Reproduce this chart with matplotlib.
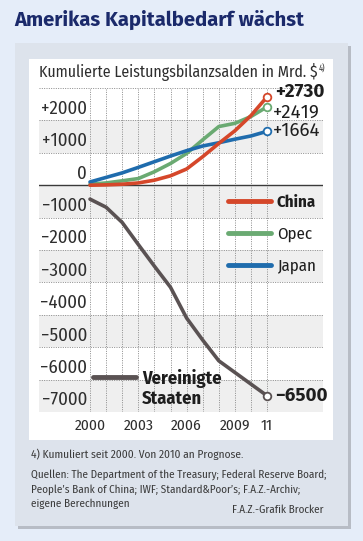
import matplotlib
matplotlib.use("Agg")
import matplotlib.pyplot as plt
from matplotlib import font_manager
from matplotlib.lines import Line2D
from matplotlib.patches import Rectangle

# values (cumulative, bn $)
years = [2000, 2001, 2002, 2003, 2004, 2005, 2006, 2007, 2008, 2009, 2010, 2011]
china = [0, 10, 30, 70, 155, 290, 500, 880, 1290, 1680, 2150, 2730]
opec = [30, 70, 135, 205, 415, 670, 980, 1400, 1810, 1910, 2120, 2419]
japan = [100, 240, 380, 550, 725, 900, 1065, 1210, 1310, 1420, 1520, 1664]
usa = [-430, -680, -1150, -1830, -2500, -3150, -4100, -4780, -5420, -5780, -6140, -6500]

ytick_values = [2000, 1000, 0, -1000, -2000, -3000, -4000, -5000, -6000, -7000]
xtick_values = [2000, 2003, 2006, 2009, 2011]
xtick_labels = ["2000", "2003", "2006", "2009", "11"]

W, H = 363, 541
BG = "#e5edf9"
PANEL = "#dde3ec"
NAVY = "#1b2a6b"
TXT = "#2e2e2e"
DARK = "#1e1e1e"
C_CHINA = "#d5472a"
C_OPEC = "#6aaa72"
C_JAPAN = "#1f6cad"
C_USA = "#5a5253"

names = {f.name for f in font_manager.fontManager.ttflist}


def pick(*cands):
    for c in cands:
        if c in names:
            return c
    return "Liberation Sans"


NARROW = pick("Fira Sans Condensed", "PT Sans Narrow", "Roboto Condensed",
              "Open Sans Condensed", "Archivo Narrow", "Liberation Sans Narrow")
WIDE = pick("Fira Sans", "Open Sans", "Lato")


def box(x0, y0, x1, y1):
    # pixel box (top-left origin) -> figure fraction rect
    return (x0 / W, 1 - y1 / H, (x1 - x0) / W, (y1 - y0) / H)


fig = plt.figure(figsize=(W / 100, H / 100), dpi=100)
fig.patch.set_facecolor(BG)
renderer = fig.canvas.get_renderer()


def fit(s, width, **kw):
    # font size that gives the text the width it has in the reference
    t = fig.text(0, 0, s, fontsize=10, **kw)
    w = t.get_window_extent(renderer).width
    t.remove()
    return 10 * width / w


for (x0, y0, x1, y1), col in [((18, 46, 351, 529), "#b7bcc5"),
                              ((15, 43, 348, 526), PANEL),
                              ((29, 59, 333, 440), "white")]:
    x, y, w, h = box(x0, y0, x1, y1)
    fig.add_artist(Rectangle((x, y), w, h, transform=fig.transFigure,
                             facecolor=col, edgecolor="none", zorder=-10))

title = "Amerikas Kapitalbedarf wächst"
fig.text(14 / W, 1 - 20 / H, title, family=WIDE, weight="bold",
         fontsize=fit(title, 291, family=WIDE, weight="bold"),
         color=NAVY, va="center", ha="left")

subtitle = "Kumulierte Leistungsbilanzsalden in Mrd. $"
sub = fig.text(39 / W, 1 - 72 / H, subtitle, family=NARROW,
               fontsize=fit(subtitle, 279, family=NARROW),
               color=TXT, va="center", ha="left")

ax = fig.add_axes(box(39, 88, 323, 412))
ax.set_xlim(2000 - 51 / 16.1, 2000 + 233 / 16.1)
ax.set_ylim(-7000, 3000)
ax.set_axis_off()

for lo in [1000, -1000, -3000, -5000, -7000]:
    ax.axhspan(lo, lo + 1000, color="#efefef", lw=0, zorder=0)

grid = dict(color="#8a8a8a", lw=0.7, linestyle=(0, (1, 1.4)), zorder=1)
ax.hlines([v for v in range(-7000, 3001, 1000) if v != 0], *ax.get_xlim(), **grid)
ax.vlines(years, -7000, 3000, **grid)
ax.axhline(0, color="#3a3a3a", lw=1.0, zorder=2)

for vals, col in [(opec, C_OPEC), (japan, C_JAPAN), (china, C_CHINA), (usa, C_USA)]:
    ax.plot(years, vals, color=col, lw=2.6, solid_capstyle="round",
            solid_joinstyle="round", zorder=3)
    ax.plot(years[-1], vals[-1], "o", mfc="white", mec=col, ms=5.5, mew=1.3, zorder=4)

tick_fs = fit("\u22122000", 46, family=NARROW)
for v in ytick_values:
    lab = "0" if v == 0 else (f"+{v}" if v > 0 else f"\u2212{-v}")
    ax.annotate(lab, (2000, v), xytext=(-3, 3), textcoords="offset pixels",
                ha="right", va="bottom", family=NARROW, fontsize=tick_fs, color=TXT)

xfs = fit("2000", 31, family=NARROW)
for x, lab in zip(xtick_values, xtick_labels):
    ax.annotate(lab, (x, -7000), xytext=(0, -14), textcoords="offset pixels",
                ha="center", va="center", family=NARROW, fontsize=xfs, color=TXT)

end_fs = fit("+2730", 49, family=WIDE, weight="bold")
end_labels = [(china, "+2730", (8, 5), "bold"),
              (opec, "+2419", (6, -5.5), "normal"),
              (japan, "+1664", (6, 0), "normal"),
              (usa, "\u22126500", (8, 0), "bold")]
for vals, lab, off, w in end_labels:
    ax.annotate(lab, (years[-1], vals[-1]), xytext=off, textcoords="offset pixels",
                ha="left", va="center", family=WIDE, fontsize=end_fs,
                weight=w, color=DARK)

leg_fs = fit("Opec", 35, family=NARROW)
leg_px = leg_fs * 100 / 72
handles = [Line2D([], [], color=c, lw=3.5, solid_capstyle="round")
           for c in (C_CHINA, C_OPEC, C_JAPAN)]
leg = ax.legend(handles, ["China", "Opec", "Japan"], loc="upper left",
                bbox_to_anchor=(0.665, 0.671), frameon=False,
                handlelength=43 / leg_px, handletextpad=6 / leg_px,
                labelspacing=0.95, borderpad=0, borderaxespad=0,
                prop=dict(family=NARROW, size=leg_fs))
leg.get_texts()[0].set_fontweight("bold")
for t in leg.get_texts():
    t.set_color(DARK)
ax.add_artist(leg)

# US key: second row has no line, it carries the wrapped part of the name
us_fs = fit("Vereinigte", 80, family=NARROW, weight="bold")
us_px = us_fs * 100 / 72
leg2 = ax.legend([Line2D([], [], color=C_USA, lw=3.5, solid_capstyle="round"),
                  Line2D([], [], color="none")],
                 ["Vereinigte", "Staaten"], loc="upper left",
                 bbox_to_anchor=(0.19, 0.133), frameon=False,
                 handlelength=43 / us_px, handletextpad=6 / us_px,
                 labelspacing=max(0.0, (23 - 1.15 * us_px) / us_px),
                 borderpad=0, borderaxespad=0,
                 prop=dict(family=NARROW, size=us_fs, weight="bold"))
for t in leg2.get_texts():
    t.set_color(DARK)

ax.annotate("4)", xy=(1, 1), xycoords=sub, xytext=(1, -1), textcoords="offset pixels",
            ha="left", va="top", family=NARROW, fontsize=6, color=TXT,
            annotation_clip=False)

foot = dict(family=NARROW, color="#3a3a3a", va="center")
note = "4) Kumuliert seit 2000. Von 2010 an Prognose."
fig.text(31 / W, 1 - 455 / H, note, fontsize=fit(note, 213, family=NARROW),
         ha="left", **foot)
src1 = "Quellen: The Department of the Treasury; Federal Reserve Board;"
src2 = "People\u2019s Bank of China; IWF; Standard&Poor\u2019s; F.A.Z.-Archiv;"
src3 = "eigene Berechnungen"
src_fs = fit(src1, 294, family=NARROW)
fig.text(31 / W, 1 - 475 / H, src1, fontsize=src_fs, ha="left", **foot)
fig.text(31 / W, 1 - 490 / H, src2, fontsize=src_fs, ha="left", **foot)
fig.text(31 / W, 1 - 504 / H, src3, fontsize=src_fs, ha="left", **foot)
fig.text(323 / W, 1 - 510 / H, "F.A.Z.-Grafik Brocker", fontsize=src_fs,
         ha="right", **foot)

fig.savefig("out.png", dpi=100, facecolor=fig.get_facecolor())
